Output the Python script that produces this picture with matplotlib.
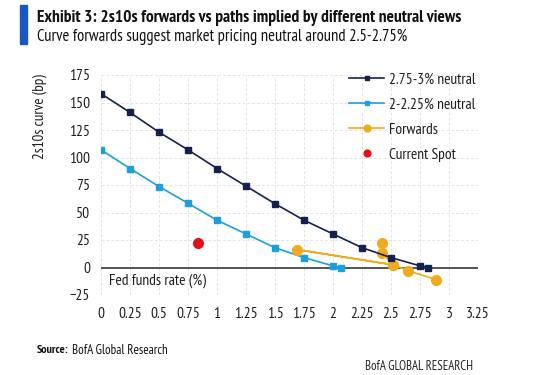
import matplotlib
matplotlib.use("Agg")
import matplotlib.pyplot as plt
from matplotlib import font_manager as fm
import matplotlib.patches as mpatches

names = {f.name for f in fm.fontManager.ttflist}
candidates = ["PT Sans Narrow", "Fira Sans Condensed", "Roboto Condensed", "Open Sans Condensed",
              "Encode Sans Condensed", "Asap Condensed", "Archivo Narrow", "IBM Plex Sans Condensed",
              "Liberation Sans Narrow", "DejaVu Sans"]
FONT = next((c for c in candidates if c in names), "DejaVu Sans")
plt.rcParams['font.family'] = [FONT, 'DejaVu Sans']

# ---- data ----
hi_x = [0, 0.25, 0.5, 0.75, 1.0, 1.25, 1.5, 1.75, 2.0, 2.25, 2.5, 2.75, 2.82]
hi_y = [158, 141, 123, 107, 90, 74, 58, 43, 30.5, 18, 9, 1.5, 0]
lo_x = [0, 0.25, 0.5, 0.75, 1.0, 1.25, 1.5, 1.75, 2.0, 2.07]
lo_y = [107, 90, 73.6, 58.4, 43, 30.5, 18, 9, 1.5, 0]
fwd_x = [2.42, 2.42, 2.52, 1.69, 2.52, 2.65, 2.89]
fwd_y = [22.4, 13.3, 2.4, 16.3, 2.4, -3, -11]
spot_x = [0.84]
spot_y = [22.4]
x_ticks = [0, 0.25, 0.5, 0.75, 1, 1.25, 1.5, 1.75, 2, 2.25, 2.5, 2.75, 3, 3.25]
x_labels = ["0", "0.25", "0.5", "0.75", "1", "1.25", "1.5", "1.75", "2", "2.25", "2.5", "2.75", "3", "3.25"]
y_ticks = [-25, 0, 25, 50, 75, 100, 125, 150, 175]

NAVY = "#14214f"
LBLUE = "#1ba0db"
ORANGE = "#f0aa1e"
RED = "#e3101b"
TXT = "#1e1e1e"

W, H = 558, 375
fig = plt.figure(figsize=(5.58, 3.75), dpi=100)
renderer = fig.canvas.get_renderer()


def fit(t, size_px, dim='width'):
    """Scale font size so the text's rendered extent is size_px."""
    for _ in range(3):
        bb = t.get_window_extent(renderer)
        cur = bb.width if dim == 'width' else bb.height
        t.set_fontsize(t.get_fontsize() * size_px / cur)
    return t.get_fontsize()


def fx(px):
    return px / W


def fy(py):
    return 1 - py / H


# measure a reference size for chart text ("2.75-3% neutral" ~ 87px wide)
probe = fig.text(0, 0, "2.75-3% neutral", fontsize=10)
BASE = fit(probe, 87)
probe.remove()
BASE_PX = BASE * 100 / 72

ax = fig.add_axes([fx(101), fy(295), (478 - 101) / W, (295 - 75) / H])

ax.plot(hi_x, hi_y, color=NAVY, lw=1.2, marker='s', ms=4, label="2.75-3% neutral", zorder=5)
ax.plot(lo_x, lo_y, color=LBLUE, lw=1.2, marker='s', ms=4, label="2-2.25% neutral", zorder=4)
ax.plot(fwd_x, fwd_y, color=ORANGE, lw=1.2, marker='o', ms=7, label="Forwards", zorder=4)
ax.plot(spot_x, spot_y, color=RED, lw=0, marker='o', ms=7, label="Current Spot", zorder=5)

ax.axhline(0, color="#3a3a3a", lw=1.2, zorder=3)
ax.set_xlim(0, 3.25)
ax.set_ylim(-25, 175)
ax.set_xticks(x_ticks)
ax.set_xticklabels(x_labels)
ax.set_yticks(y_ticks)
ax.grid(True, color="#e4e4e4", ls=(0, (3, 2)), lw=0.7)
for s in ax.spines.values():
    s.set_visible(False)
ax.tick_params(axis='both', length=0, labelsize=BASE, colors=TXT)
ax.tick_params(axis='x', pad=9)
ax.tick_params(axis='y', pad=8)
yl = ax.set_ylabel("2s10s curve (bp)", fontsize=BASE, color=TXT)
fit(yl, 85, dim='height')
ax.yaxis.set_label_coords(-0.143, 0.81)
ax.text(0.065, -12, "Fed funds rate (%)", fontsize=BASE, color=TXT, va='center', ha='left')

HL = 35 / BASE_PX
leg = ax.legend(loc='upper left', bbox_to_anchor=((350 - 101) / 377 - 0.018, 1.04), frameon=False,
                fontsize=BASE, handlelength=HL, labelspacing=0.72, markerscale=0.7,
                handletextpad=4.5 / BASE_PX, borderaxespad=0, borderpad=0.4)
for t in leg.get_texts():
    t.set_color(TXT)

fig.patches.append(mpatches.Rectangle((fx(20), fy(44)), 7 / W, 39 / H, transform=fig.transFigure,
                                      color="#1957c5", zorder=10))
t1 = fig.text(fx(37), fy(18), "Exhibit 3: 2s10s forwards vs paths implied by different neutral views",
              fontsize=12, fontweight='bold', color="#111111", va='center', ha='left')
fit(t1, 425)
t2 = fig.text(fx(37), fy(37), "Curve forwards suggest market pricing neutral around 2.5-2.75%",
              fontsize=11, color="#111111", va='center', ha='left')
fit(t2, 370)
t3 = fig.text(fx(37), fy(350), "Source:", fontsize=9, fontweight='bold', color="#111111",
              va='center', ha='left')
fit(t3, 32)
t4 = fig.text(fx(72), fy(350), "BofA Global Research", fontsize=9, color="#111111",
              va='center', ha='left')
fit(t4, 96)
t5 = fig.text(fx(365), fy(366), "BofA GLOBAL RESEARCH", fontsize=9, color="#222222",
              va='center', ha='left')
fit(t5, 108)

fig.savefig("out.png", dpi=100)
